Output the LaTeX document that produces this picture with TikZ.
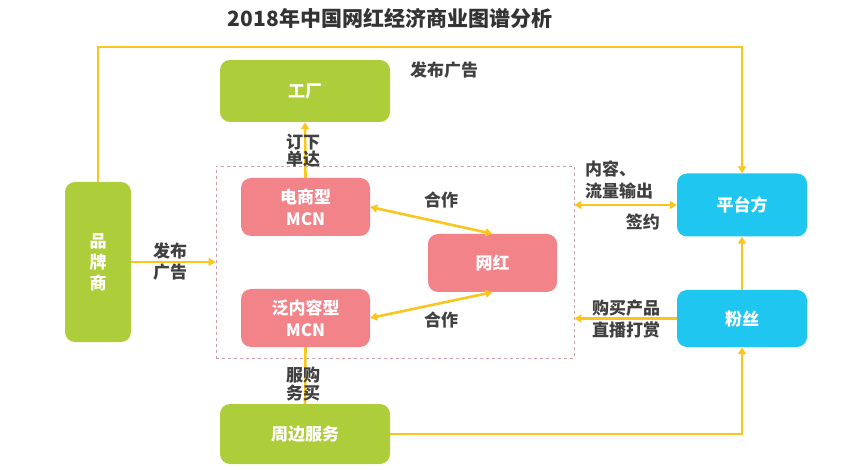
\documentclass[tikz,border=0pt]{standalone}
\usepackage{fontspec}
\setmainfont{Noto Sans CJK SC}[BoldFont={Noto Sans CJK SC Black}]
\usetikzlibrary{arrows.meta}
\definecolor{arrowy}{RGB}{250,198,30}
\definecolor{boxgreen}{RGB}{174,205,58}
\definecolor{boxpink}{RGB}{241,131,137}
\definecolor{boxcyan}{RGB}{31,199,240}
\definecolor{txtgray}{RGB}{64,64,64}
\definecolor{dashpink}{RGB}{205,160,168}
\tikzset{
  box/.style={rounded corners=10pt, inner sep=0pt, text=white, font=\bfseries\fontsize{17}{22}\selectfont, align=center},
  gbox/.style={box, fill=boxgreen},
  pbox/.style={box, fill=boxpink},
  cbox/.style={box, fill=boxcyan},
  lbl/.style={text=txtgray, font=\bfseries\fontsize{17}{22}\selectfont, inner sep=0pt},
  conn/.style={draw=arrowy, line width=2.6pt},
  tip/.style={-{Triangle[length=7pt,width=8pt]}},
  tips/.style={{Triangle[length=7pt,width=8pt]}-{Triangle[length=7pt,width=8pt]}}
}
\begin{document}
\begin{tikzpicture}[x=1pt,y=-1pt]
\useasboundingbox (0,0) rectangle (846,470);
\node[text=txtgray!80!black, font=\bfseries\fontsize{21}{24}\selectfont, inner sep=0pt] (title) at (390,18) {2018年中国网红经济商业图谱分析};

\node[draw=dashpink, dashed, line width=0.8pt, minimum width=358pt, minimum height=192pt, inner sep=0pt] (grp) at (395,262) {};

\node[gbox, minimum width=170pt, minimum height=62pt] (factory) at (305,91) {工厂};
\node[pbox, minimum width=129pt, minimum height=58pt] (ec) at (305.5,207) {电商型\\MCN};
\node[pbox, minimum width=129pt, minimum height=58pt] (wh) at (492.5,263) {网红};
\node[pbox, minimum width=129pt, minimum height=58pt] (fan) at (305.5,318) {泛内容型\\MCN};
\node[gbox, minimum width=170pt, minimum height=60pt] (periph) at (305,434) {周边服务};
\node[gbox, minimum width=66pt, minimum height=160pt, font=\bfseries\fontsize{17}{21}\selectfont] (brand) at (98,262) {品\\牌\\商};
\node[cbox, minimum width=130pt, minimum height=63pt] (platform) at (742,205) {平台方};
\node[cbox, minimum width=130pt, minimum height=57pt] (fans) at (742,318.5) {粉丝};

\coordinate (top) at (420,47);
\draw[conn, tip] (brand.north) |- (top) -| (platform.north);
\draw[conn, tip] (brand.east) -- (grp.west);
\draw[conn, tip] (ec.north) -- (factory.south);
\draw[conn, tips] (ec.east) -- (wh.north);
\draw[conn, tips] (fan.east) -- (wh.south);
\draw[conn] (fan.south) -- (periph.north);
\draw[conn, tip] (periph.east) -| (fans.south);
\draw[conn, tip] (fans.north) -- (platform.south);
\draw[conn, tips] (platform.west) -- (grp.east |- platform.west);
\draw[conn, tip] (fans.west) -- (grp.east |- fans.west);

\node[lbl] (l1) at (444,70) {发布广告};
\node[lbl, align=center, font=\bfseries\fontsize{17}{17}\selectfont] (l2) at (303,151) {订下\\单达};
\node[lbl] (l3) at (441,200) {合作};
\node[lbl] (l4) at (441,320) {合作};
\node[lbl, align=center, font=\bfseries\fontsize{17}{16}\selectfont] (l5) at (303,384) {服购\\务买};
\node[lbl, align=center, font=\bfseries\fontsize{17}{21}\selectfont] (l6) at (170,262) {发布\\广告};
\node[lbl, anchor=west] (l7) at (585,169) {内容、};
\node[lbl, anchor=west] (l8) at (585,191) {流量输出};
\node[lbl, anchor=east] (l9) at (660,222) {签约};
\node[lbl, anchor=west] (l10) at (592,308) {购买产品};
\node[lbl, anchor=west] (l11) at (592,330) {直播打赏};
\end{tikzpicture}
\end{document}
